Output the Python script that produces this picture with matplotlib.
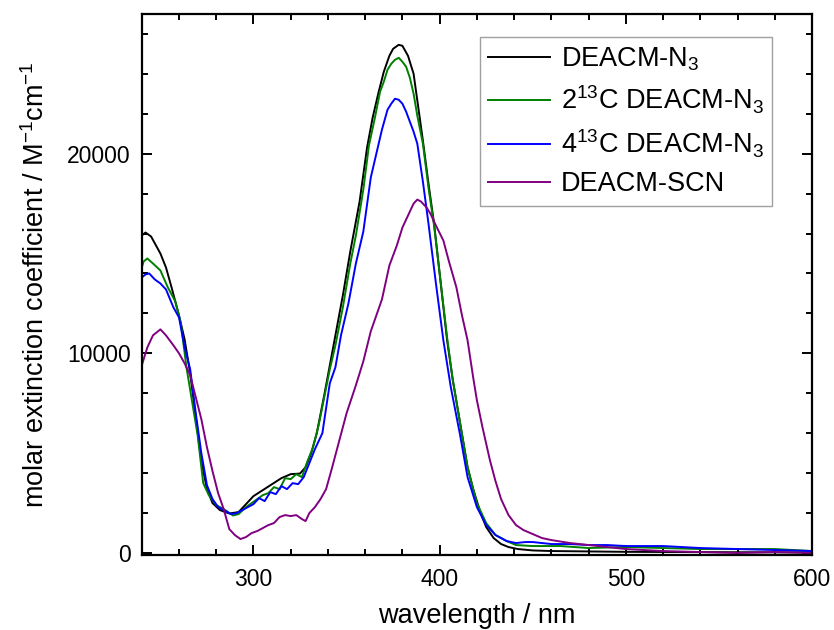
import matplotlib.pyplot as plt
from matplotlib.ticker import MultipleLocator

plt.rcParams['font.family'] = ['Liberation Sans', 'DejaVu Sans']
plt.rcParams['mathtext.default'] = 'regular'

# DEACM-N3
wl_black = [240, 242, 245, 250, 253, 256, 260, 263, 266, 269, 272, 275, 278, 282, 287, 292, 296,
            300, 305, 310, 315, 320, 325, 328, 331, 334, 338, 341, 345, 348, 352, 357, 361, 364,
            367, 370, 373, 375, 378, 380, 383, 386, 389, 391, 394, 397, 400, 404, 407, 411, 415,
            418, 422, 425, 429, 433, 437, 442, 450, 460, 480, 500, 530, 560, 600]
eps_black = [15900, 16050, 15850, 15000, 14300, 13300, 11900, 10700, 9000, 6800, 4600, 3200, 2500,
             2150, 1980, 2050, 2450, 2850, 3150, 3450, 3750, 3950, 3980, 4300, 5000, 6000, 7900,
             9400, 11400, 12900, 15100, 17600, 20300, 21800, 23000, 24100, 24900, 25250, 25450,
             25400, 24900, 24000, 22000, 20650, 18500, 16500, 14000, 10650, 8700, 6500, 4300, 3200,
             2000, 1300, 750, 450, 300, 200, 130, 100, 80, 60, 50, 40, 30]

# 2 13C DEACM-N3
wl_green = [240, 241, 243, 246, 250, 254, 258, 261, 264, 267, 270, 273, 276, 280, 284, 289, 292,
            296, 299, 302, 305, 308, 311, 314, 317, 320, 323, 326, 329, 332, 335, 338, 341, 344,
            348, 352, 355, 359, 362, 365, 368, 370, 372, 374, 376, 378, 380, 382, 384, 386, 388,
            391, 394, 397, 400, 404, 407, 411, 415, 420, 425, 430, 436, 441, 450, 465, 480, 500,
            520, 540, 560, 580, 600]
eps_green = [14300, 14600, 14750, 14500, 14150, 13300, 12600, 11500, 9300, 7600, 5900, 3500, 2900,
             2400, 2200, 1880, 1950, 2300, 2500, 2700, 2900, 3000, 3300, 3200, 3750, 3700, 3950,
             3800, 4600, 5300, 6400, 7800, 9200, 10400, 12300, 14500, 15900, 18200, 20400, 21700,
             23100, 23600, 24200, 24500, 24700, 24800, 24600, 24350, 23800, 23000, 21900, 20500,
             18300, 16400, 14000, 10800, 8700, 6500, 4300, 2500, 1500, 900, 600, 400, 350, 350,
             250, 300, 250, 200, 200, 200, 100]

# 4 13C DEACM-N3
wl_blue = [240, 242, 244, 247, 250, 253, 257, 260, 263, 266, 269, 272, 275, 278, 281, 285, 288,
           291, 294, 297, 300, 303, 306, 309, 312, 315, 318, 321, 324, 327, 330, 333, 337, 341,
           344, 347, 351, 355, 359, 363, 366, 369, 372, 374, 376, 378, 380, 382, 384, 386, 388,
           391, 394, 398, 402, 406, 411, 415, 420, 425, 430, 436, 441, 446, 450, 460, 470, 480,
           490, 500, 520, 540, 560, 580, 600]
eps_blue = [13800, 13950, 14000, 13700, 13500, 13200, 12300, 11800, 10300, 9200, 7000, 5000, 3400,
            2700, 2300, 2100, 1950, 2000, 2150, 2300, 2450, 2750, 2600, 3050, 2950, 3350, 3200,
            3500, 3450, 3800, 4500, 5200, 6000, 8500, 9300, 10900, 12500, 14500, 16100, 18800,
            20000, 21200, 22200, 22500, 22750, 22700, 22500, 22100, 21600, 21100, 20500, 18600,
            16500, 13500, 10650, 8300, 5900, 3800, 2300, 1400, 900, 600, 500, 550, 550, 450, 450,
            400, 400, 350, 350, 250, 200, 150, 100]

# DEACM-SCN
wl_purple = [240, 243, 246, 250, 253, 257, 260, 263, 266, 269, 272, 275, 278, 281, 284, 287, 290,
             293, 296, 299, 302, 305, 308, 311, 314, 317, 320, 323, 326, 328, 330, 333, 336, 339,
             342, 346, 350, 355, 359, 363, 366, 369, 373, 377, 380, 383, 386, 388, 390, 393, 395,
             398, 402, 405, 409, 412, 415, 418, 420, 423, 427, 430, 433, 437, 441, 445, 450, 455,
             460, 470, 480, 490, 500, 520, 540, 560, 580, 600]
eps_purple = [9400, 10300, 10900, 11200, 10900, 10400, 10000, 9500, 8900, 7800, 6700, 5300, 4100,
              3000, 2200, 1200, 900, 700, 800, 1000, 1100, 1250, 1400, 1500, 1800, 1900, 1850,
              1900, 1700, 1600, 2000, 2300, 2700, 3200, 4200, 5600, 7000, 8400, 9600, 11100, 11900,
              12700, 14400, 15400, 16300, 16900, 17500, 17700, 17600, 17300, 17000, 16400, 15650,
              14600, 13300, 11900, 10650, 8800, 7650, 6300, 4650, 3600, 2700, 1900, 1400, 1150,
              950, 750, 650, 500, 400, 300, 200, 100, 50, 0, 50, 0]

labels = ['DEACM-N$_3$', '2$^{13}$C DEACM-N$_3$', '4$^{13}$C DEACM-N$_3$', 'DEACM-SCN']
colors = ['black', '#008000', '#0000ff', '#800080']

fig = plt.figure(figsize=(8.34, 6.3), dpi=100)
ax = fig.add_axes([0.170, 0.119, 0.8036, 0.859])

series = [(wl_black, eps_black), (wl_green, eps_green), (wl_blue, eps_blue), (wl_purple, eps_purple)]
for (wl, eps), lab, c in zip(series, labels, colors):
    ax.plot(wl, eps, color=c, lw=1.4, label=lab)

ax.set_xlim(240, 600)
ax.set_ylim(-100, 27000)
ax.xaxis.set_major_locator(MultipleLocator(100))
ax.xaxis.set_minor_locator(MultipleLocator(20))
ax.yaxis.set_major_locator(MultipleLocator(10000))
ax.yaxis.set_minor_locator(MultipleLocator(2000))
ax.tick_params(which='both', direction='in', top=True, right=True, width=1.4, labelsize=16.5)
ax.tick_params(which='major', length=7)
ax.tick_params(which='minor', length=4)
ax.tick_params(axis='x', pad=9)
ax.tick_params(axis='y', pad=8)
for s in ax.spines.values():
    s.set_linewidth(1.6)

ax.set_xlabel('wavelength / nm', fontsize=19.5, labelpad=9)
ax.set_ylabel('molar extinction coefficient / M$^{-1}$cm$^{-1}$', fontsize=19.5, labelpad=12)

leg = ax.legend(loc='upper right', bbox_to_anchor=(0.940, 0.957), borderaxespad=0,
                fontsize=19.5, fancybox=False, edgecolor='#888888', handlelength=2.3,
                handletextpad=0.38, labelspacing=0.42, borderpad=0.3)
leg.get_frame().set_linewidth(1.0)

fig.savefig('out.png', dpi=100)
